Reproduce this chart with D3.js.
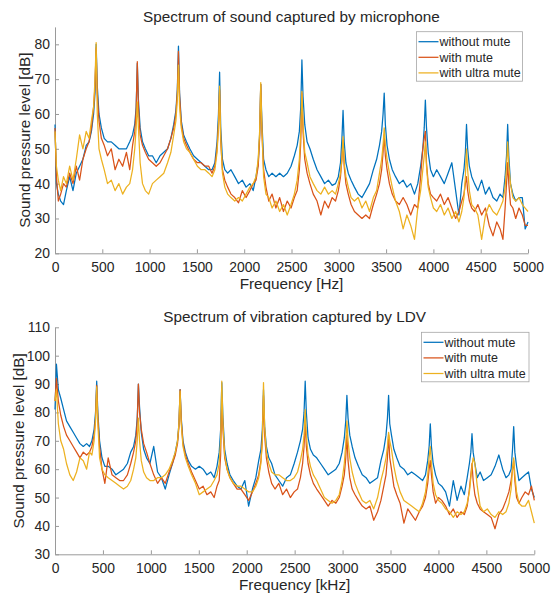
<!DOCTYPE html>
<html>
<head>
<meta charset="utf-8">
<script src="https://cdn.jsdelivr.net/npm/d3@7"></script>
<style>
body { margin: 0; background: #fff; }
text { font-family: "Liberation Sans", Arial, sans-serif; fill: #262626; }
</style>
</head>
<body>
<svg width="555" height="596"></svg>
<script>
// frequency grid (Hz), shared by all six curves
let freq = [
  0,15,35,60,90,120,155,190,225,260,295,330,360,385,408,423,
  435,447,465,490,520,555,595,635,675,715,755,790,820,843,858,
  870,882,900,925,955,990,1030,1070,1110,1150,1190,1225,1255,1278,1293,
  1305,1317,1335,1360,1390,1425,1465,1505,1545,1585,1625,1660,1690,1713,1728,
  1740,1752,1770,1795,1825,1860,1900,1940,1980,2020,2060,2095,2125,2148,2163,
  2175,2187,2205,2230,2260,2295,2335,2375,2415,2455,2495,2530,2560,2583,2598,
  2610,2622,2640,2665,2695,2730,2770,2810,2850,2890,2930,2965,2995,3018,3033,
  3045,3057,3075,3100,3130,3165,3205,3245,3285,3325,3365,3400,3430,3453,3468,
  3480,3492,3510,3535,3565,3600,3640,3680,3720,3760,3800,3835,3865,3888,3903,
  3915,3927,3945,3970,4000,4035,4075,4115,4155,4195,4235,4270,4300,4323,4338,
  4350,4362,4380,4405,4435,4470,4510,4550,4590,4630,4670,4705,4735,4758,4773,
  4785,4797,4815,4840,4870,4905,4940,4970,5000
];

// microphone spectrum (dB)
let micWithout = [
  57,40,37,35,34,38,42,38,43,45,47,51,52,55,60,66,
  80,68,60,56,53,52,52,51,50,50,50,52,54,57,62,
  74.5,64,56,52,50,48,48,46,48,49,50,53,57,61,67,
  79.5,66,58,54,52,50,48,47,46,45,44,44,46,52,60,
  72,56,47,44,43,44,42,40,41,39,40,38,42,46,54,
  68.5,58,47,44,42,43,42,43,42,43,45,48,51,55,62,
  75.5,65,57,52,50,47,44,42,40,41,39.5,40,42,46,53,
  61,52,46,43,41,39,37,36,38,40,44,47,51,55,60,
  66,57,51,47,44,42,40,41,39,40,37,40,45,50,56,
  64,56,49,44,42,44,42,40,43,46,38,31,40,44,49,
  57,50,45,42,40,38,41,37,39,36,35,37,36,42,48,
  57,48,40,37,35,36,36,27,29
];
let micMute = [
  56,42,35,37,40,39,43,40,45,41,47,50,52,56,62,68,
  79,66,58,53,51,48,50,44,47,45,49,44,51,55,61,
  75,62,54,51,49,47,46,45,46,48,50,53,56,60,66,
  78,65,57,53,51,49,47,46,46,45,45,43,45,50,57,
  67,52,44,41,39,37,36,34.5,38,36,38,40,41,45,53,
  68.5,55,44,39,35,37,33,36,32,35,33,36,38,44,52,
  66,55,47,43,40,37,35,31,35,33,36,35,38,42,47,
  52.5,45,40,37,34,32,31,30,31,30,34,37,40,44,49,
  54,48,44,40,37,35,34,36,34,31,34,33,42,50,53,
  55,46,40,37,36,35,37,34,36,33,30,32,35,37,40,
  42,38,35,33,32,34,31,33,28,25,29,27,24,33,40,
  46,40,34,33,30,33,31,28,28
];
let micUltra = [
  55,45,41,38,42,40,45,41,47,54,50,55,53,58,62,70,
  80.5,60,50,47,44,40,41,38,40,37,39,40,44,50,56,
  63.5,56,46,40,38,37,40,41,42,43,46,49,54,58,64,
  74,62,56,52,50,49,47,45,44,44,43,42,44,49,56,
  68,53,43,39,37,36,35,36,35,37,39,40,42,47,55,
  69,56,42,37,36,33,35,32,34,31,34,37,41,47,55,
  66.5,57,49,46,42,40,38,37,39,37,38,37,40,43,47,
  53.5,46,42,39,36,35,36,33,35,32,36,38,43,47,51,
  56,51,47,43,39,35,32,27,31,28,24,33,38,44,48,
  52,45,39,36,33,32,34,31,33,30,32,29,32,36,42,
  50,44,38,34,33,31,24,31,34,32,31,33,35,39,45,
  52,45,40,36,35,36,34,33,32
];

// LDV spectrum (dB)
let ldvWithout = [
  81,97,88,85,81,77,75,73,71,69,68,69,68,70,74,80,
  91,80,70,64,61,61,60,58,59,60,62,66,68,72,78,
  90,82,73,67,64,62,68,59,57,53,58,62,66,70,76,
  88,78,70,66,63,61,60,61,60,58,59,57,61,66,74,
  90.5,78,67,62,58,56,54,53,56,47,53,57,63,67,74,
  88,75,68,64,62,58,56,54,57,58,62,66,70,74,80,
  91,80,71,67,65,64,62,60,58,59,60,62,66,71,77,
  86,78,72,68,64,61,58,57,55,56,57,63,67,72,78,
  86,76,72,67,64,61,60,58,59,58,57,56,58,63,68,
  76,68,62,58,55,54,52,47,56,49,54,51,57,62,66,
  72.5,66,62,57,59,56,57,58,61,65,60,57,58,60,67,
  75,66,61,56,57,58,59,53,50
];
let ldvMute = [
  84,92,84,79,75,72,70,68,66,64,66,65,66,68,72,78,
  89.5,78,68,60,55,64,58,57,56,56,58,62,66,70,77,
  90,80,74,69,66,62,58,55,57,55,59,62,65,69,75,
  88,77,69,65,62,59,56,53,54,51,52,50,54,56,65,
  85,74,64,60,57,55,53,53,51,49,52,55,58,63,70,
  86,72,64,59,55,53,55,51,53,50,52,53,57,62,68,
  77,68,62,58,55,53,51,49,47,49,48,50,54,58,64,
  72,63,57,53,51,49,47,46,47,42,45,49,54,58,64,
  72,64,60,54,51,48,41,46,44,42,45,47,50,55,60,
  63,58,52,48,50,49,47,44,46,43,45,44,47,53,58,
  62,56,51,48,46,45,44,43,39,44,46,49,52,56,60,
  63,56,50,48,50,52,51,54,49
];
let ldvUltra = [
  84,88,76,70,67,62,58,56,59,64,63,60,66,65,70,77,
  89,76,64,60,58,57,56,55,54,53,54,56,60,64,70,
  78,70,63,59,57,56,56,57,57,58,60,63,66,70,76,
  87.5,76,68,64,61,58,55,51,52,53,54,56,58,62,70,
  91,76,65,60,57,55,54,54,53,52,52,54,57,62,70,
  90.5,75,66,62,59,58,58,57,56,56,57,59,63,67,72,
  81,72,65,61,58,56,53,50,49,48,49,51,56,62,69,
  77,70,64,59,55,52,49,48,49,46,50,56,60,64,68,
  73,70,67,61,56,52,49,48,47,46,45,48,52,58,64,
  68,62,55,51,49,48,46,45,43,45,44,45,48,52,57,
  61,64,62,54,47,45,46,44,43,45,44,45,48,53,60,
  64,58,52,48,47,47,49,45,41
];

let seriesNames = ["without mute", "with mute", "with ultra mute"];
let colors = ["#0072bd", "#d95319", "#edb120"];
let xTicks = [0,500,1000,1500,2000,2500,3000,3500,4000,4500,5000];
let micTicks = [20,30,40,50,60,70,80];
let ldvTicks = [30,40,50,60,70,80,90,100,110];

let svg = d3.select('svg');

function drawPanel(p) {
    let x = d3.scaleLinear().domain([0,5000]).range([p.left, p.right]);
    let y = d3.scaleLinear().domain(p.yDomain).range([p.bottom, p.top]);
    let g = svg.append('g');

    let xa = g.append('g').attr('transform', 'translate(0,' + p.bottom + ')')
        .call(d3.axisBottom(x).tickValues(xTicks).tickFormat(d3.format('d'))
            .tickSizeInner(-4).tickSizeOuter(0).tickPadding(8.5));
    let ya = g.append('g').attr('transform', 'translate(' + p.left + ',0)')
        .call(d3.axisLeft(y).tickValues(p.yTicks).tickFormat(d3.format('d'))
            .tickSizeInner(-4).tickSizeOuter(0).tickPadding(5));
    [xa, ya].forEach(a => {
        a.select('.domain').attr('stroke', '#9a9a9a');
        a.selectAll('.tick line').attr('stroke', '#9a9a9a');
        a.selectAll('.tick text').attr('fill', '#262626').style('font-size', '13.9px');
    });

    let line = d3.line().x((d, i) => x(freq[i])).y(d => y(d));
    p.series.forEach((s, k) => {
        g.append('path').datum(s).attr('d', line)
            .attr('fill', 'none').attr('stroke', colors[k]).attr('stroke-width', 1.25)
            .attr('stroke-linejoin', 'round');
    });

    g.append('text').attr('x', (p.left + p.right) / 2).attr('y', p.titleY)
        .attr('text-anchor', 'middle').style('font-size', '15.3px').text(p.title);
    g.append('text').attr('x', (p.left + p.right) / 2).attr('y', p.xLabelY)
        .attr('text-anchor', 'middle').style('font-size', '15.3px').text(p.xLabel);
    g.append('text').attr('transform', 'translate(' + p.yLabelX + ',' + (p.top + p.bottom) / 2 + ') rotate(-90)')
        .attr('text-anchor', 'middle').style('font-size', '15.3px').text('Sound pressure level [dB]');

    // legend
    let lg = g.append('g').attr('transform', 'translate(' + p.legX + ',' + p.legY + ')');
    lg.append('rect').attr('width', p.legW).attr('height', 49.5)
        .attr('fill', '#fff').attr('stroke', '#a6a6a6').attr('stroke-width', 0.8);
    seriesNames.forEach((name, k) => {
        let cy = 10 + k * 15.6;
        lg.append('line').attr('x1', 2).attr('x2', 22).attr('y1', cy).attr('y2', cy)
            .attr('stroke', colors[k]).attr('stroke-width', 1.25);
        lg.append('text').attr('x', 23).attr('y', cy).attr('dy', '0.35em')
            .style('font-size', '12.5px').text(name);
    });
}

drawPanel({
    title: 'Spectrum of sound captured by microphone', xLabel: 'Frequency [Hz]',
    series: [micWithout, micMute, micUltra],
    left: 55, right: 528, top: 26.9, bottom: 253.3, yDomain: [20, 85], yTicks: micTicks,
    titleY: 21.5, xLabelY: 289, yLabelX: 30,
    legX: 416.5, legY: 31.7, legW: 106
});

drawPanel({
    title: 'Spectrum of vibration captured by LDV', xLabel: 'Frequency [kHz]',
    series: [ldvWithout, ldvMute, ldvUltra],
    left: 55, right: 534.3, top: 327.3, bottom: 554.3, yDomain: [30, 110], yTicks: ldvTicks,
    titleY: 321.5, xLabelY: 590, yLabelX: 24,
    legX: 421.5, legY: 332.3, legW: 107.5
});
</script>
</body>
</html>
